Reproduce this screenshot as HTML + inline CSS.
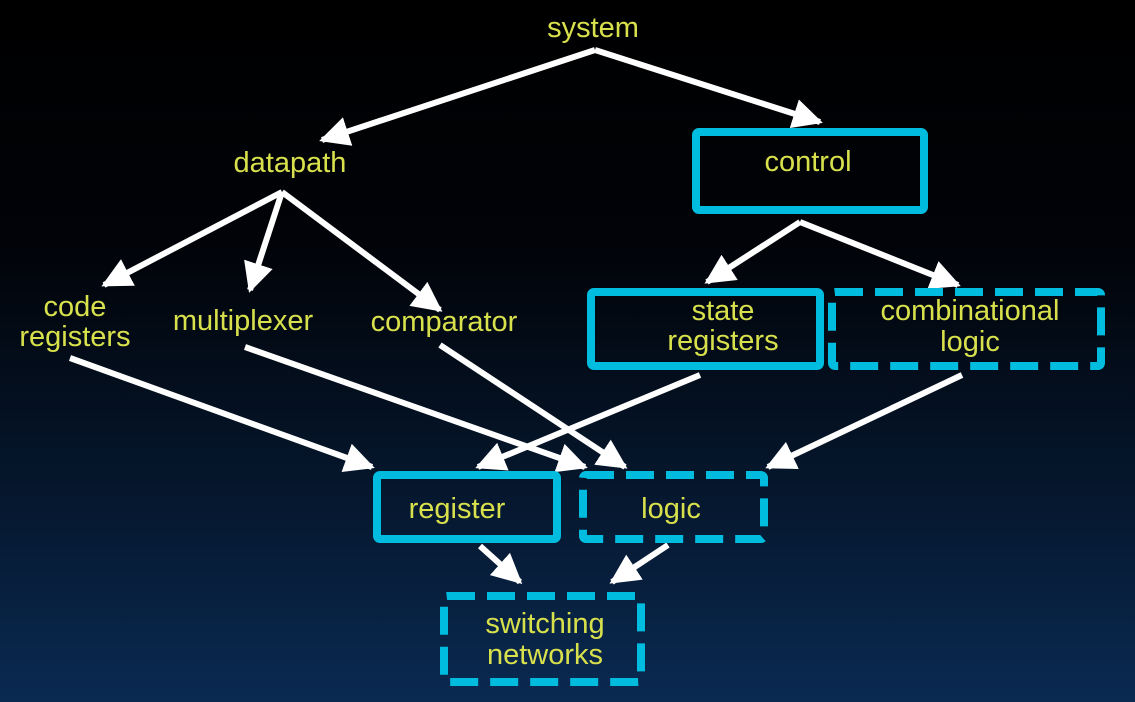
<!DOCTYPE html>
<html><head><meta charset="utf-8"><style>
html,body{margin:0;padding:0}
body{width:1135px;height:702px;overflow:hidden;background:linear-gradient(180deg,#000 0%,#010308 35%,#061a33 75%,#0a2a52 100%)}
svg{display:block}
text{font-family:"Liberation Sans",sans-serif;font-size:29px;fill:#d8e04c;text-anchor:middle;dominant-baseline:central}
</style></head><body>
<svg width="1135" height="702" viewBox="0 0 1135 702">
<defs>
<marker id="a" viewBox="0 0 10 10" refX="9" refY="5" markerWidth="5" markerHeight="5" orient="auto" markerUnits="strokeWidth">
<path d="M0,0 L10,5 L0,10 Z" fill="#fff"/></marker>
</defs>
<g stroke="#fff" stroke-width="6" fill="none" marker-end="url(#a)">
<line x1="595" y1="50" x2="322" y2="140"/>
<line x1="595" y1="50" x2="820" y2="122"/>
<line x1="282" y1="192" x2="104" y2="285"/>
<line x1="282" y1="192" x2="250" y2="290"/>
<line x1="282" y1="192" x2="440" y2="310"/>
<line x1="800" y1="222" x2="707" y2="282"/>
<line x1="800" y1="222" x2="958" y2="285"/>
<line x1="70" y1="358" x2="372" y2="467"/>
<line x1="245" y1="347" x2="585" y2="467"/>
<line x1="440" y1="345" x2="625" y2="467"/>
<line x1="700" y1="375" x2="478" y2="467"/>
<line x1="962" y1="375" x2="768" y2="467"/>
<line x1="480" y1="546" x2="520" y2="582"/>
<line x1="668" y1="545" x2="612" y2="582"/>
</g>
<g stroke="#00bde0" stroke-width="8" fill="none">
<rect x="696" y="132" width="228" height="78" rx="3"/>
<rect x="591" y="292" width="229" height="74" rx="3"/>
<rect x="832" y="292" width="269" height="74" rx="3" stroke-dasharray="28,12"/>
<rect x="377" y="475" width="180" height="64" rx="3"/>
<rect x="583" y="475" width="181" height="64" rx="3" stroke-dasharray="28,12"/>
<rect x="444" y="596" width="197" height="86" rx="3" stroke-dasharray="28,12"/>
</g>
<text x="593" y="28">system</text>
<text x="290" y="163">datapath</text>
<text x="808" y="162">control</text>
<text x="75" y="307">code</text>
<text x="75" y="337">registers</text>
<text x="243" y="321">multiplexer</text>
<text x="444" y="322">comparator</text>
<text x="723" y="311">state</text>
<text x="723" y="341">registers</text>
<text x="970" y="311">combinational</text>
<text x="970" y="342">logic</text>
<text x="457" y="509">register</text>
<text x="671" y="509">logic</text>
<text x="545" y="624">switching</text>
<text x="545" y="655">networks</text>
</svg>
</body></html>
